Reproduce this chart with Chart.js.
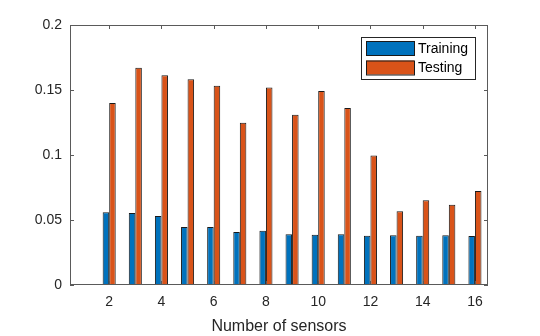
<!DOCTYPE html>
<html>
<head>
<meta charset="utf-8">
<script src="https://cdn.jsdelivr.net/npm/chart.js@4.4.0/dist/chart.umd.min.js"></script>
<style>
  html, body { margin: 0; padding: 0; background: #fff; }
  #wrap { width: 540px; height: 336px; }
</style>
</head>
<body>
<div id="wrap"><canvas id="chart" width="540" height="336"></canvas></div>
<script>
// number of sensors (1 has no bar, keeps the MATLAB x range 0.5..16.5)
var sensors = ['1', '2', '3', '4', '5', '6', '7', '8', '9', '10', '11', '12', '13', '14', '15', '16'];
var training = [null, 0.0559, 0.0554, 0.0531, 0.0446, 0.0446, 0.0408, 0.0418, 0.0390, 0.0387, 0.0390, 0.0379, 0.0382, 0.0379, 0.0382, 0.0377];
var testing = [null, 0.1400, 0.1672, 0.1613, 0.1582, 0.1533, 0.1249, 0.1520, 0.1310, 0.1492, 0.1362, 0.0997, 0.0567, 0.0651, 0.0618, 0.0723];
var yTicks = [0, 0.05, 0.1, 0.15, 0.2];
var yTickLabels = ['0', '0.05', '0.1', '0.15', '0.2'];
var seriesNames = ['Training', 'Testing'];
var seriesColors = ['#0072BD', '#D95319'];

var FONT = '"Liberation Sans", Arial, sans-serif';
var AXIS = '#262626';
var BOX = '#5a5a5a';

// box, inward ticks and the in-plot legend, MATLAB style
var matlabAxes = {
    id: 'matlabAxes',
    afterDatasetsDraw: function(chart) {
        var ctx = chart.ctx;
        var a = chart.chartArea;
        var xs = chart.scales.x, ys = chart.scales.y;
        var tl = 4;
        ctx.save();
        ctx.strokeStyle = BOX;
        ctx.lineWidth = 1;
        ctx.strokeRect(a.left + 0.5, a.top + 0.5, a.right - a.left - 1, a.bottom - a.top - 1);
        ctx.beginPath();
        sensors.forEach(function(s, i) {
            if (Number(s) % 2 !== 0) return;
            var x = Math.round(xs.getPixelForValue(i)) + 0.5;
            ctx.moveTo(x, a.bottom); ctx.lineTo(x, a.bottom - tl);
            ctx.moveTo(x, a.top); ctx.lineTo(x, a.top + tl);
        });
        yTicks.forEach(function(v) {
            var y = Math.round(ys.getPixelForValue(v)) + 0.5;
            ctx.moveTo(a.left, y); ctx.lineTo(a.left + tl, y);
            ctx.moveTo(a.right, y); ctx.lineTo(a.right - tl, y);
        });
        ctx.stroke();

        // legend
        var lx = 361, ly = 37, lw = 114, lh = 42;
        ctx.fillStyle = '#fff';
        ctx.fillRect(lx, ly, lw, lh);
        ctx.strokeStyle = '#262626';
        ctx.strokeRect(lx + 0.5, ly + 0.5, lw, lh);
        ctx.font = '14px ' + FONT;
        ctx.textBaseline = 'middle';
        seriesNames.forEach(function(name, i) {
            var sy = ly + 4 + i * 19.5;
            ctx.fillStyle = seriesColors[i];
            ctx.fillRect(lx + 5, sy, 48, 14);
            ctx.strokeStyle = '#1a1a1a';
            ctx.strokeRect(lx + 5.5, sy + 0.5, 48, 14);
            ctx.fillStyle = '#000';
            ctx.fillText(name, lx + 57, sy + 8);
        });
        ctx.restore();
    }
};

var ctx = document.getElementById('chart').getContext('2d');
var chart = new Chart(ctx, {
    type: 'bar',
    data: {
        labels: sensors,
        datasets: [
            {
                label: seriesNames[0],
                data: training,
                backgroundColor: seriesColors[0],
                borderColor: '#1a1a1a',
                borderWidth: 1
            },
            {
                label: seriesNames[1],
                data: testing,
                backgroundColor: seriesColors[1],
                borderColor: '#1a1a1a',
                borderWidth: 1
            }
        ]
    },
    options: {
        responsive: false,
        animation: false,
        maintainAspectRatio: false,
        categoryPercentage: 0.5,
        barPercentage: 1.0,
        layout: {
            padding: { left: 0, right: 52, top: 25, bottom: 0 }
        },
        plugins: {
            legend: { display: false },
            tooltip: { enabled: false }
        },
        scales: {
            x: {
                grid: { display: false, drawTicks: false },
                border: { display: false },
                ticks: {
                    color: AXIS,
                    font: { family: FONT, size: 14 },
                    padding: 9,
                    autoSkip: false,
                    maxRotation: 0,
                    callback: function(v, i) {
                        return Number(sensors[i]) % 2 === 0 ? sensors[i] : '';
                    }
                },
                title: {
                    display: true,
                    text: 'Number of sensors',
                    color: AXIS,
                    font: { family: FONT, size: 16 },
                    padding: { top: 2, bottom: 0 }
                },
                afterFit: function(scale) { scale.height = 51; }
            },
            y: {
                min: 0,
                max: 0.2,
                grid: { display: false, drawTicks: false },
                border: { display: false },
                afterBuildTicks: function(scale) {
                    scale.ticks = yTicks.map(function(v) { return { value: v }; });
                },
                ticks: {
                    color: AXIS,
                    font: { family: FONT, size: 14 },
                    padding: 8,
                    callback: function(v) {
                        var k = yTicks.indexOf(v);
                        return k >= 0 ? yTickLabels[k] : '';
                    }
                },
                afterFit: function(scale) { scale.width = 70; }
            }
        }
    },
    plugins: [matlabAxes]
});
</script>
</body>
</html>
